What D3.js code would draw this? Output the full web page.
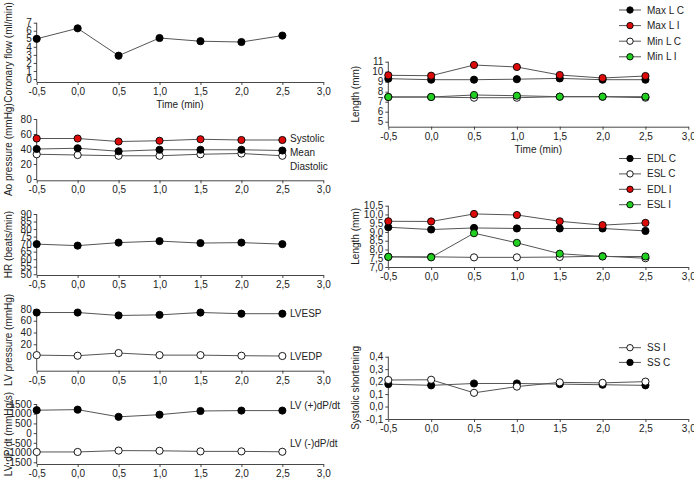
<!DOCTYPE html>
<html>
<head>
<meta charset="utf-8">
<script src="https://cdn.jsdelivr.net/npm/d3@7"></script>
<style>
  html, body { margin: 0; padding: 0; background: #fff; }
  svg { display: block; font-family: "Liberation Sans", Arial, Helvetica, sans-serif; }
</style>
</head>
<body>
<svg id="chart" width="694" height="479"></svg>
<script>
// ---------------- DATA ----------------
const times = [-0.5, 0, 0.5, 1, 1.5, 2, 2.5];
const xTicks = [-0.5, 0, 0.5, 1, 1.5, 2, 2.5, 3];

const coronaryFlow = [5.0, 6.3, 2.9, 5.1, 4.7, 4.6, 5.4];
const aoSystolic   = [54, 54, 50, 51, 53, 52, 52];
const aoMean       = [40, 41, 37, 39, 39, 39, 38];
const aoDiastolic  = [33, 32, 31, 31, 33, 34, 31];
const heartRate    = [70, 69, 71, 72, 70.7, 71, 70];
const lvesp        = [74, 74, 69, 70, 74, 72, 72];
const lvedp        = [1.5, 0.5, 5, 1.5, 1.5, 0.5, 0];
const dpdtPos      = [1180, 1210, 840, 950, 1140, 1160, 1160];
const dpdtNeg      = [-970, -970, -900, -910, -940, -940, -960];

const maxLC = [9.3, 9.2, 9.2, 9.25, 9.33, 9.2, 9.2];
const maxLI = [9.64, 9.6, 10.67, 10.47, 9.67, 9.37, 9.57];
const minLC = [7.47, 7.47, 7.4, 7.4, 7.5, 7.5, 7.4];
const minLI = [7.47, 7.47, 7.67, 7.6, 7.5, 7.5, 7.5];

const edlC = [9.27, 9.14, 9.23, 9.2, 9.2, 9.2, 9.06];
const eslC = [7.58, 7.58, 7.55, 7.55, 7.57, 7.62, 7.5];
const edlI = [9.61, 9.6, 10.03, 9.97, 9.61, 9.39, 9.52];
const eslI = [7.58, 7.55, 8.93, 8.38, 7.76, 7.6, 7.6];

const ssI = [0.213, 0.215, 0.11, 0.16, 0.194, 0.19, 0.2];
const ssC = [0.18, 0.17, 0.185, 0.185, 0.18, 0.175, 0.17];

const coronaryTicks = [0, 1, 2, 3, 4, 5, 6, 7];
const aoTicks = [0, 20, 40, 60, 80];
const hrTicks = [50, 55, 60, 65, 70, 75, 80, 85, 90];
const lvpTicks = [0, 20, 40, 60, 80];
const dpdtTicks = [-1500, -1000, -500, 0, 500, 1000, 1500];
const lenTicks1 = [5, 6, 7, 8, 9, 10, 11];
const lenTicks2 = [7.0, 7.5, 8.0, 8.5, 9.0, 9.5, 10.0, 10.5];
const ssTicks = [-0.1, 0.0, 0.1, 0.2, 0.3, 0.4];

// ---------------- STYLE ----------------
const RED = "#dd0a0a", GREEN = "#22d022", BLACK = "#000", WHITE = "#fff";
const LINE = "#555";
const svg = d3.select("#chart");

const fmtDec = (d, n) => d.toFixed(n).replace(".", ",");
const fmtInt = d => String(d);

function panel(cfg) {
  const x = d3.scaleLinear().domain([-0.5, 3]).range(cfg.xRange);
  const y = d3.scaleLinear().domain(cfg.yDomain).range(cfg.yRange);
  const g = svg.append("g");

  // x axis
  const xa = g.append("g").attr("transform", `translate(0,${cfg.yRange[0]})`)
    .call(d3.axisBottom(x).tickValues(xTicks).tickFormat(d => fmtDec(d, 1))
      .tickSizeInner(3).tickSizeOuter(0).tickPadding(3));
  // y axis
  const ya = g.append("g").attr("transform", `translate(${cfg.xRange[0]},0)`)
    .call(d3.axisLeft(y).tickValues(cfg.yTicks).tickFormat(cfg.yFmt)
      .tickSizeInner(3).tickSizeOuter(0).tickPadding(2));
  // shorten y axis domain line to top tick
  ya.select(".domain").attr("d",
    `M0,${y(d3.max(cfg.yTicks))}V${cfg.yRange[0]}`);
  [xa, ya].forEach(a => {
    a.selectAll(".domain, line").attr("stroke", "#333").attr("stroke-width", 0.9);
    a.selectAll("text").attr("fill", "#222").style("font-size", "10px");
  });

  // y title
  const yc = (y(d3.max(cfg.yTicks)) + cfg.yRange[0]) / 2;
  g.append("text").attr("transform", `translate(${cfg.titleX},${yc}) rotate(-90)`)
    .attr("text-anchor", "middle").attr("dominant-baseline", "central")
    .attr("fill", "#222").style("font-size", "10px").text(cfg.title);

  if (cfg.xTitle) {
    g.append("text").attr("x", (cfg.xRange[0] + cfg.xRange[1]) / 2)
      .attr("y", cfg.yRange[0] + 26).attr("text-anchor", "middle")
      .attr("fill", "#222").style("font-size", "10px").text("Time (min)");
  }

  const line = d3.line().x((d, i) => x(times[i])).y(d => y(d));
  cfg.series.forEach(s => {
    g.append("path").datum(s.values).attr("d", line)
      .attr("fill", "none").attr("stroke", LINE).attr("stroke-width", 1);
  });
  cfg.series.forEach(s => {
    g.selectAll(null).data(s.values).enter().append("circle")
      .attr("cx", (d, i) => x(times[i])).attr("cy", d => y(d)).attr("r", 3.6)
      .attr("fill", s.fill).attr("stroke", "#000").attr("stroke-width", 0.9);
  });
  (cfg.labels || []).forEach(l => {
    g.append("text").attr("x", 290).attr("y", l.y).attr("dominant-baseline", "central")
      .attr("fill", "#222").style("font-size", "10px").text(l.text);
  });
  if (cfg.legend) {
    cfg.legend.items.forEach((it, i) => {
      const yy = cfg.legend.y0 + i * cfg.legend.dy;
      g.append("line").attr("x1", 619).attr("x2", 641).attr("y1", yy).attr("y2", yy)
        .attr("stroke", LINE).attr("stroke-width", 1);
      g.append("circle").attr("cx", 630).attr("cy", yy).attr("r", 3.2)
        .attr("fill", it.fill).attr("stroke", "#000").attr("stroke-width", 0.9);
      g.append("text").attr("x", 647).attr("y", yy).attr("dominant-baseline", "central")
        .attr("fill", "#222").style("font-size", "10px").text(it.name);
    });
  }
}

const LX = [36.7, 323.3], RX = [388.3, 688.3];

panel({ xRange: LX, yRange: [82, 22.7], yDomain: [-0.37, 7], yTicks: coronaryTicks, yFmt: fmtInt,
  title: "Coronary flow (ml/min)", titleX: 8, xTitle: true,
  series: [{ values: coronaryFlow, fill: BLACK }] });

panel({ xRange: LX, yRange: [180.3, 119], yDomain: [-1.7, 80], yTicks: aoTicks, yFmt: fmtInt,
  title: "Ao pressure (mmHg)", titleX: 8,
  series: [{ values: aoDiastolic, fill: WHITE }, { values: aoMean, fill: BLACK }, { values: aoSystolic, fill: RED }],
  labels: [{ text: "Systolic", y: 138 }, { text: "Mean", y: 152 }, { text: "Diastolic", y: 166 }] });

panel({ xRange: LX, yRange: [275, 214], yDomain: [49.5, 90], yTicks: hrTicks, yFmt: fmtInt,
  title: "HR (beats/min)", titleX: 8,
  series: [{ values: heartRate, fill: BLACK }] });

panel({ xRange: LX, yRange: [370.7, 309], yDomain: [-25, 80], yTicks: lvpTicks, yFmt: fmtInt,
  title: "LV pressure (mmHg)", titleX: 8,
  series: [{ values: lvedp, fill: WHITE }, { values: lvesp, fill: BLACK }],
  labels: [{ text: "LVESP", y: 313 }, { text: "LVEDP", y: 356 }] });

panel({ xRange: LX, yRange: [464, 404], yDomain: [-1590, 1500], yTicks: dpdtTicks, yFmt: fmtInt,
  title: "LV dP/dt (mmHg/s)", titleX: 8,
  series: [{ values: dpdtNeg, fill: WHITE }, { values: dpdtPos, fill: BLACK }],
  labels: [{ text: "LV (+)dP/dt", y: 405 }, { text: "LV (-)dP/dt", y: 443 }] });

panel({ xRange: RX, yRange: [126.7, 61.7], yDomain: [4.5, 11], yTicks: lenTicks1, yFmt: fmtInt,
  title: "Length (mm)", titleX: 355, xTitle: true,
  series: [{ values: maxLC, fill: BLACK }, { values: maxLI, fill: RED }, { values: minLC, fill: WHITE }, { values: minLI, fill: GREEN }],
  legend: { y0: 10, dy: 15.6, items: [
    { name: "Max L C", fill: BLACK }, { name: "Max L I", fill: RED },
    { name: "Min L C", fill: WHITE }, { name: "Min L I", fill: GREEN }] } });

panel({ xRange: RX, yRange: [267, 205.7], yDomain: [7, 10.5], yTicks: lenTicks2, yFmt: d => fmtDec(d, 1),
  title: "Length (mm)", titleX: 355,
  series: [{ values: edlC, fill: BLACK }, { values: eslC, fill: WHITE }, { values: edlI, fill: RED }, { values: eslI, fill: GREEN }],
  legend: { y0: 158.5, dy: 15.4, items: [
    { name: "EDL C", fill: BLACK }, { name: "ESL C", fill: WHITE },
    { name: "EDL I", fill: RED }, { name: "ESL I", fill: GREEN }] } });

panel({ xRange: RX, yRange: [419, 356.7], yDomain: [-0.1, 0.4], yTicks: ssTicks, yFmt: d => fmtDec(d, 1),
  title: "Systolic shortening", titleX: 355,
  series: [{ values: ssC, fill: BLACK }, { values: ssI, fill: WHITE }],
  legend: { y0: 347.7, dy: 14.7, items: [
    { name: "SS I", fill: WHITE }, { name: "SS C", fill: BLACK }] } });
</script>
</body>
</html>
